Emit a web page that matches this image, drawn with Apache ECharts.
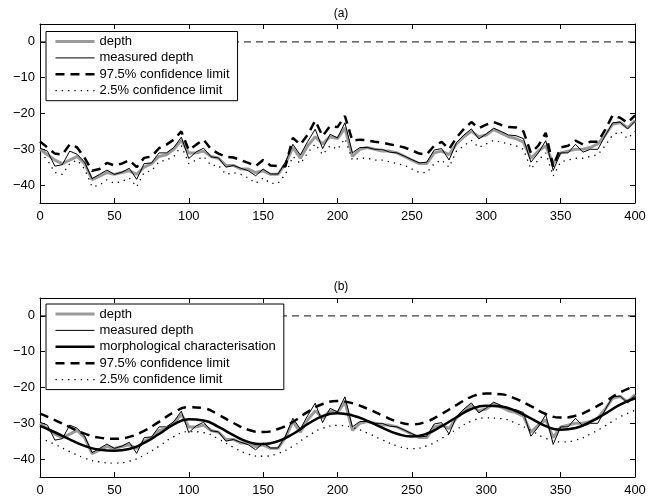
<!DOCTYPE html>
<html lang="en">
<head>
<meta charset="UTF-8">
<title>depth and confidence limits</title>
<style>
    html, body { margin: 0; padding: 0; background: #fff; }
    #main { width: 659px; height: 497px; }
</style>
</head>
<body>
<div id="main"></div>
<script src="https://cdn.jsdelivr.net/npm/echarts@6.0.0/dist/echarts.min.js"></script>
<script>
    // distance along the profile, sampled every 5 units
    var distance = Array.from({ length: 81 }, function (_, i) { return i * 5; });
    // smooth curves read every 10 units
    var distanceCoarse = Array.from({ length: 41 }, function (_, i) { return i * 10; });

    var depth = [
        -30.0, -31.5, -33.0, -34.0, -33.0, -32.0, -34.0, -38.5, -37.5, -36.5,
        -37.0, -36.5, -36.0, -37.0, -35.0, -34.0, -32.0, -31.5, -30.0, -27.5,
        -31.0, -31.0, -30.5, -32.0, -32.5, -34.5, -34.5, -35.5, -35.5, -36.5,
        -36.0, -37.0, -37.0, -34.0, -29.5, -32.5, -29.0, -26.5, -28.5, -26.5,
        -27.0, -24.0, -32.0, -30.0, -29.5, -30.0, -30.5, -30.5, -31.0, -32.0,
        -33.0, -34.0, -34.0, -31.0, -30.5, -31.5, -28.5, -26.5, -25.0, -26.5,
        -26.0, -24.5, -25.5, -26.5, -27.0, -28.0, -32.5, -30.5, -29.0, -34.0,
        -31.0, -30.5, -30.0, -30.0, -29.5, -28.5, -26.0, -23.0, -22.5, -24.0,
        -22.0
    ];
    var measured = [
        -29.7, -30.5, -34.7, -34.3, -30.5, -31.4, -33.6, -38.2, -37.0, -35.8,
        -37.0, -36.4, -35.3, -38.4, -34.0, -33.8, -31.0, -31.0, -29.5, -26.6,
        -32.6, -30.7, -29.7, -32.1, -32.4, -35.0, -34.5, -35.3, -36.0, -37.4,
        -35.5, -36.9, -36.9, -33.6, -28.6, -31.6, -27.8, -24.4, -29.8, -25.8,
        -26.8, -22.6, -31.0, -29.5, -29.5, -30.0, -30.0, -30.8, -31.0, -31.9,
        -32.9, -33.8, -33.6, -30.2, -29.8, -33.0, -28.1, -26.0, -24.3, -27.1,
        -25.7, -24.1, -25.0, -26.0, -26.2, -27.0, -33.6, -31.0, -27.6, -35.9,
        -31.0, -31.0, -28.6, -30.8, -30.0, -30.0, -26.2, -22.6, -22.4, -24.3,
        -22.2
    ];
    var upperA = [
        -27.8, -29.5, -31.2, -31.5, -28.6, -29.5, -32.4, -36.0, -35.5, -33.8,
        -34.5, -34.0, -33.0, -35.0, -32.4, -32.0, -29.7, -28.7, -27.3, -25.0,
        -30.2, -28.7, -27.3, -30.0, -31.2, -32.1, -32.3, -33.0, -33.8, -34.7,
        -33.0, -34.5, -34.7, -34.8, -26.8, -28.7, -25.9, -22.0, -26.3, -23.5,
        -23.8, -20.7, -27.6, -27.3, -27.5, -27.9, -28.1, -28.6, -29.0, -29.5,
        -30.3, -31.2, -31.4, -29.0, -27.9, -30.0, -26.7, -24.3, -22.4, -24.1,
        -23.1, -22.4, -23.2, -23.8, -23.9, -25.0, -31.0, -29.0, -25.4, -34.8,
        -29.5, -29.0, -27.6, -28.6, -27.9, -27.9, -24.5, -20.5, -21.2, -22.6,
        -20.5
    ];
    var lowerA = [
        -31.0, -33.0, -36.5, -37.0, -34.0, -33.0, -35.5, -40.5, -40.0, -38.5,
        -39.5, -39.0, -38.0, -40.5, -36.5, -36.0, -33.5, -33.0, -32.0, -29.0,
        -34.0, -33.0, -32.0, -34.5, -34.5, -37.0, -36.5, -37.0, -38.0, -39.5,
        -38.0, -39.5, -39.5, -37.0, -32.0, -34.0, -31.0, -28.5, -31.5, -29.0,
        -30.0, -27.0, -33.0, -32.5, -32.5, -33.0, -33.0, -33.5, -34.0, -34.5,
        -35.5, -36.5, -36.5, -34.0, -33.0, -35.0, -30.5, -29.0, -27.5, -29.5,
        -28.5, -27.5, -28.0, -28.5, -29.0, -30.0, -35.5, -33.0, -31.0, -37.5,
        -33.5, -33.0, -32.5, -32.5, -32.0, -31.5, -29.0, -26.0, -25.0, -27.0,
        -25.0
    ];
    var morph = [
        -30.7, -32.5, -34.5, -36.3, -37.4, -37.7, -37.2, -35.5, -33.0, -30.3,
        -28.9, -29.2, -31.0, -33.3, -35.2, -35.8, -35.0, -33.0, -30.2, -28.0,
        -27.2, -27.8, -29.3, -31.2, -32.9, -33.7, -32.9, -30.8, -28.3, -26.0,
        -25.1, -25.3, -26.6, -28.6, -30.8, -31.8, -31.3, -29.6, -27.3, -24.8,
        -23.0
    ];
    var upperB = [
        -27.3, -29.1, -31.1, -32.9, -34.0, -34.3, -33.8, -32.1, -29.6, -26.9,
        -25.5, -25.8, -27.6, -29.9, -31.8, -32.4, -31.6, -29.6, -26.8, -24.6,
        -23.8, -24.4, -25.9, -27.8, -29.5, -30.3, -29.5, -27.4, -24.9, -22.6,
        -21.7, -21.9, -23.2, -25.2, -27.4, -28.4, -27.9, -26.2, -23.9, -21.4,
        -19.6
    ];
    var lowerB = [
        -34.1, -35.9, -37.9, -39.7, -40.8, -41.1, -40.6, -38.9, -36.4, -33.7,
        -32.3, -32.6, -34.4, -36.7, -38.6, -39.2, -38.4, -36.4, -33.6, -31.4,
        -30.6, -31.2, -32.7, -34.6, -36.3, -37.1, -36.3, -34.2, -31.7, -29.4,
        -28.5, -28.7, -30.0, -32.0, -34.2, -35.2, -34.7, -33.0, -30.7, -28.2,
        -26.4
    ];
    var zeroX = [0, 400];
    var zeroY = [0, 0];

    var FONT = '"Liberation Sans", Arial, Helvetica, sans-serif';

    function pairs(xs, ys) {
        return xs.map(function (x, i) { return [x, ys[i]]; });
    }

    function xAxisFor(grid, pos) {
        return {
            type: 'value', gridIndex: grid, position: pos, min: 0, max: 400, interval: 50,
            axisLine: { show: true, onZero: false, lineStyle: { color: '#000', width: 1 } },
            axisTick: { show: true, inside: true, length: 5, lineStyle: { color: '#000' } },
            axisLabel: { show: pos === 'bottom', margin: 7, color: '#000', fontSize: 13, fontFamily: FONT },
            splitLine: { show: false }
        };
    }

    function yAxisFor(grid, pos) {
        return {
            type: 'value', gridIndex: grid, position: pos, min: -45, max: 5, splitNumber: 5,
            axisLine: { show: true, onZero: false, lineStyle: { color: '#000', width: 1 } },
            axisTick: { show: true, inside: true, length: 5, lineStyle: { color: '#000' } },
            axisLabel: {
                show: pos === 'left', margin: 5, color: '#000', fontSize: 13, fontFamily: FONT,
                showMinLabel: false, showMaxLabel: false,
                formatter: function (v) { return v < 0 ? '\u2212' + Math.abs(v) : String(v); }
            },
            splitLine: { show: false }
        };
    }

    function lineSeries(name, grid, xs, ys, style, smooth) {
        return {
            name: name, type: 'line', xAxisIndex: grid * 2, yAxisIndex: grid * 2,
            data: pairs(xs, ys), symbol: 'none', showSymbol: false, smooth: !!smooth,
            lineStyle: style, silent: true, animation: false
        };
    }

    var sDepth = { color: '#9a9a9a', width: 3 };
    var sMeasured = { color: '#000', width: 1 };
    var sMorph = { color: '#000', width: 2.5 };
    var sUpper = { color: '#000', width: 2.5, type: [9, 6] };
    var sLower = { color: '#000', width: 1.3, type: [1.3, 5] };
    var sZero = { color: '#111', width: 1, type: [7, 5] };

    function legendFor(top, names) {
        return {
            orient: 'vertical', left: 46, top: top, padding: [3, 8, 3, 8],
            itemWidth: 39, itemHeight: 14, itemGap: 2.4,
            borderColor: '#000', borderWidth: 1, borderRadius: 0, backgroundColor: '#fff',
            selectedMode: false, data: names,
            itemStyle: { opacity: 0 }, lineStyle: { width: 'inherit' },
            textStyle: { color: '#000', fontSize: 13, fontFamily: FONT, lineHeight: 14 }
        };
    }

    var chart = echarts.init(document.getElementById('main'), null, { renderer: 'canvas' });

    var option = {
        backgroundColor: '#fff',
        animation: false,
        title: [
            { text: '(a)', left: 336, top: 3, textAlign: 'center',
              textStyle: { fontSize: 12, fontWeight: 'normal', color: '#000', fontFamily: FONT } },
            { text: '(b)', left: 336, top: 276, textAlign: 'center',
              textStyle: { fontSize: 12, fontWeight: 'normal', color: '#000', fontFamily: FONT } }
        ],
        grid: [
            { left: 40, top: 24, width: 595, height: 179 },
            { left: 40, top: 298, width: 595, height: 179 }
        ],
        xAxis: [xAxisFor(0, 'bottom'), xAxisFor(0, 'top'), xAxisFor(1, 'bottom'), xAxisFor(1, 'top')],
        yAxis: [yAxisFor(0, 'left'), yAxisFor(0, 'right'), yAxisFor(1, 'left'), yAxisFor(1, 'right')],
        legend: [
            legendFor(31.5, ['depth', 'measured depth', '97.5% confidence limit', '2.5% confidence limit']),
            legendFor(304, ['depth', 'measured depth', 'morphological characterisation',
                '97.5% confidence limit', '2.5% confidence limit'])
        ],
        series: [
            // panel (a)
            lineSeries('zero', 0, zeroX, zeroY, sZero),
            lineSeries('depth', 0, distance, depth, sDepth),
            lineSeries('measured depth', 0, distance, measured, sMeasured),
            lineSeries('97.5% confidence limit', 0, distance, upperA, sUpper),
            lineSeries('2.5% confidence limit', 0, distance, lowerA, sLower),
            // panel (b)
            lineSeries('zero', 1, zeroX, zeroY, sZero),
            lineSeries('depth', 1, distance, depth, sDepth),
            lineSeries('measured depth', 1, distance, measured, sMeasured),
            lineSeries('morphological characterisation', 1, distanceCoarse, morph, sMorph, 0.5),
            lineSeries('97.5% confidence limit', 1, distanceCoarse, upperB, sUpper, 0.5),
            lineSeries('2.5% confidence limit', 1, distanceCoarse, lowerB, sLower, 0.5)
        ]
    };

    chart.setOption(option);
</script>
</body>
</html>
